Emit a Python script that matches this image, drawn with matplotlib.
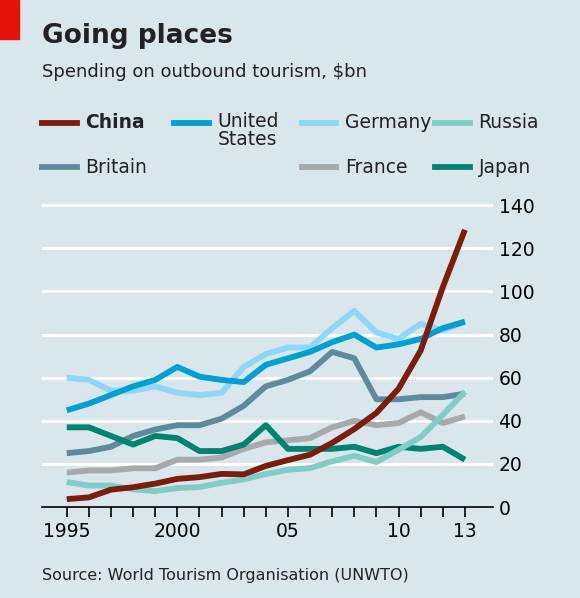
import matplotlib.pyplot as plt
import matplotlib.patches as mpatches

years = list(range(1995, 2014))
china   = [3.7,4.5,8.1,9.2,10.9,13.1,13.9,15.4,15.2,19.1,21.8,24.3,29.8,36.2,43.7,54.9,72.6,102,128.6]
usa     = [44.9,48,52,56,59,65,60.5,59,58,66,69,72,76.5,80,74,75.5,78,83,86]
germany = [60,59,54,54,56,53,52,53,65,71,74,74,83,91,81,78,85,82,86]
russia  = [11.6,10,10,8.3,7.4,8.8,9.3,11.3,12.9,15.3,17.3,18.1,21.2,23.8,20.9,26.6,32.5,42.8,53.5]
britain = [25,26,28,33,36,38,38,41,47,56,59,63,72,69,50,50,51,51,52.6]
france  = [16,17,17,18,18,22,22,23,27,30,31,32,37,40,38,39,44,39,42]
japan   = [37,37,33,29,33,32,26,26,29,38,27,27,27,28,25,28,27,28,22]
xticklabels = ["1995","2000","05","10","13"]
xtickpos = [1995,2000,2005,2010,2013]

bg = "#d9e6ec"
fig = plt.figure(figsize=(5.8,5.98), dpi=100, facecolor=bg)
ax = fig.add_axes([0.072, 0.152, 0.778, 0.512])
ax.set_facecolor(bg)
series = [("Germany",germany,"#8ed8f5"),("United States",usa,"#00a0d5"),
          ("Britain",britain,"#5f8a9b"),("France",france,"#a7a9ab"),
          ("Japan",japan,"#00836f"),("Russia",russia,"#7fcdc5"),
          ("China",china,"#7a1c10")]
for n,v,c in series:
    ax.plot(years, v, color=c, lw=4.2, solid_capstyle='butt', zorder=3)
ax.set_ylim(0,142)
ax.set_xlim(1993.87,2014.27)
ax.set_yticks(range(0,141,20))
ax.yaxis.tick_right()
ax.tick_params(axis='y', length=0, labelsize=13.5, pad=4)
ax.grid(axis='y', color='white', lw=2.2, zorder=1)
ax.set_xticks(years, minor=True)
ax.set_xticks(xtickpos)
ax.set_xticklabels(xticklabels, fontsize=13.5)
ax.tick_params(axis='x', which='both', length=7, width=1.2, direction='out')
for s in ['top','right','left']:
    ax.spines[s].set_visible(False)
ax.spines['bottom'].set_linewidth(1.2)

fig.patches.append(mpatches.Rectangle((0,0.935),0.033,0.065, transform=fig.transFigure, color="#e3120b"))
fig.text(0.072,0.928,"Going places",fontsize=19,fontweight='bold',color='#222')
fig.text(0.072,0.872,"Spending on outbound tourism, $bn",fontsize=13,color='#222')
leg = [("China",0.072,0.795,"#7a1c10",True),("United\nStates",0.3,0.795,"#00a0d5",False),
       ("Germany",0.52,0.795,"#8ed8f5",False),("Russia",0.75,0.795,"#7fcdc5",False),
       ("Britain",0.072,0.72,"#5f8a9b",False),("France",0.52,0.72,"#a7a9ab",False),
       ("Japan",0.75,0.72,"#00836f",False)]
for name,x,y,c,b in leg:
    fig.add_artist(plt.Line2D([x,x+0.06],[y,y],color=c,lw=4.2,transform=fig.transFigure))
    if '\n' in name:
        fig.text(x+0.075,y+0.018,name,fontsize=13.5,va='top',color='#222',linespacing=0.95)
    else:
        fig.text(x+0.075,y,name,fontsize=13.5,va='center',
                 fontweight='bold' if b else 'normal',color='#222')
fig.text(0.072,0.03,"Source: World Tourism Organisation (UNWTO)",fontsize=11.5,color='#222')
fig.savefig("out.png", facecolor=bg)
